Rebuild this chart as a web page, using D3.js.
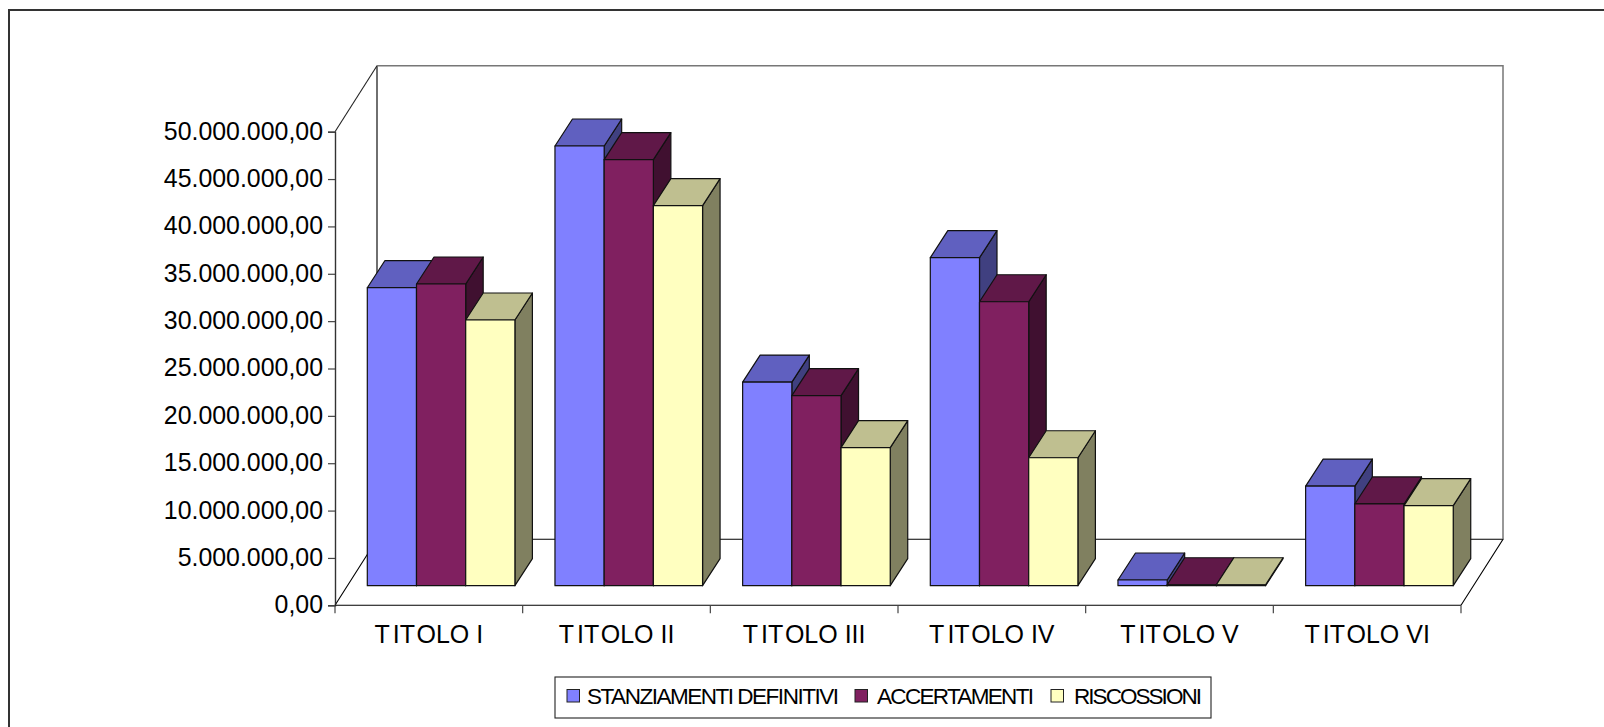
<!DOCTYPE html>
<html>
<head>
<meta charset="utf-8">
<script src="https://d3js.org/d3.v7.min.js"></script>
<style>
  html, body { margin: 0; padding: 0; background: #fff; overflow: hidden; }
  svg { display: block; }
  text { font-family: "Liberation Sans", Arial, sans-serif; fill: #000; }
</style>
</head>
<body>
<svg id="main_graph" width="1604" height="727"></svg>
<script>
// values
var categories = ["TITOLO I", "TITOLO II", "TITOLO III", "TITOLO IV", "TITOLO V", "TITOLO VI"];
var seriesNames = ["STANZIAMENTI DEFINITIVI", "ACCERTAMENTI", "RISCOSSIONI"];
var stanziamenti = [31460000, 46420000, 21500000, 34630000, 600000, 10520000];
var accertamenti = [31850000, 44980000, 20060000, 29980000, 100000, 8630000];
var riscossioni  = [28050000, 40120000, 14570000, 13510000, 100000, 8450000];
var yTicks = [0, 5000000, 10000000, 15000000, 20000000, 25000000, 30000000, 35000000, 40000000, 45000000, 50000000];

var seriesValues = [stanziamenti, accertamenti, riscossioni];
var frontColors = ["#8080ff", "#802060", "#ffffc0"];
var topColors   = ["#6060c0", "#601848", "#bfbf90"];
var sideColors  = ["#404080", "#401030", "#808060"];

var svg = d3.select("#main_graph");

var itLocale = d3.formatLocale({decimal: ",", thousands: ".", grouping: [3], currency: ["", "€"]});
var fmt = itLocale.format(",.2f");

var x = d3.scaleBand().domain(categories).range([335, 1461]);
var y = d3.scaleLinear().domain([0, 50000000]).range([605.3, 131.7]);
var xs = d3.scaleBand().domain(seriesNames).range([32.3, 179.9]);

var wallDx = 42, wallDy = -66;     // floor depth
var baseDx = 12.5, baseDy = -19.6; // where the bars stand on the floor
var barDx = 17.5, barDy = -27;     // bar depth

var poly = d3.line();

// outer frame, it runs off the page on the right and bottom
svg.append("path")
  .attr("d", "M1606,10H9V729")
  .attr("fill", "none")
  .attr("stroke", "#333")
  .attr("stroke-width", 2);

// walls and floor
var x0 = x.range()[0], x1 = x.range()[1], y0 = y(0), yMax = y(50000000);
function wall(d, color, w) {
  svg.append("path").attr("d", d).attr("fill", "none").attr("stroke", color).attr("stroke-width", w);
}
wall("M" + x0 + "," + y0 + "L" + (x0 + wallDx) + "," + (y0 + wallDy) + "H" + (x1 + wallDx) + "L" + x1 + "," + y0, "#000", 1.1);
wall("M" + x0 + "," + yMax + "L" + (x0 + wallDx) + "," + (yMax + wallDy), "#222", 1.1);
wall("M" + (x0 + wallDx) + "," + (y0 + wallDy) + "V" + (yMax + wallDy), "#222", 1.3);
wall("M" + (x0 + wallDx) + "," + (yMax + wallDy) + "H" + (x1 + wallDx) + "V" + (y0 + wallDy), "#777", 1.5);

// y axis
var yAxis = d3.axisLeft(y).tickValues(yTicks).tickFormat(fmt).tickSize(7).tickPadding(5);
var gy = svg.append("g").attr("transform", "translate(" + x0 + ",0)").call(yAxis);
gy.select(".domain").attr("stroke", "#333").attr("stroke-width", 1.4);
gy.selectAll(".tick line").attr("stroke", "#444").attr("stroke-width", 1.2);
gy.selectAll("text").style("font-size", "24.9px").attr("fill", "#000").attr("dy", "0.3em");

// x axis, ticks sit on the band edges
svg.append("line").attr("x1", x0).attr("x2", x1).attr("y1", y0).attr("y2", y0)
  .attr("stroke", "#000").attr("stroke-width", 1.1);
svg.selectAll(".xtick").data(categories.concat(["end"])).enter().append("line")
  .attr("class", "xtick")
  .attr("x1", function(d, i) { return x0 + i * x.bandwidth(); })
  .attr("x2", function(d, i) { return x0 + i * x.bandwidth(); })
  .attr("y1", y0).attr("y2", y0 + 8)
  .attr("stroke", "#444").attr("stroke-width", 1.2);
svg.selectAll(".xlab").data(categories).enter().append("text")
  .attr("class", "xlab")
  .attr("x", function(d) { return x(d) + x.bandwidth() / 2; })
  .attr("y", 643)
  .attr("text-anchor", "middle")
  .attr("dx", "0 3 0 2 0 0")   // the odd gaps in T ITOLO
  .style("font-size", "25px")
  .text(function(d) { return d; });

// bars
seriesNames.forEach(function(name, s) {
  var g = svg.append("g").attr("stroke", "#111").attr("stroke-width", 1.2).attr("stroke-linejoin", "round");
  categories.forEach(function(cat, c) {
    var v = seriesValues[s][c];
    var left = x(cat) + xs(name);
    var right = left + xs.bandwidth();
    var h = y(0) - y(v);
    var bottom = y(0) + baseDy;
    var top = bottom - h;
    g.append("path").attr("fill", sideColors[s])
      .attr("d", poly([[right, top], [right + barDx, top + barDy], [right + barDx, bottom + barDy], [right, bottom]]) + "Z");
    g.append("path").attr("fill", topColors[s])
      .attr("d", poly([[left, top], [left + barDx, top + barDy], [right + barDx, top + barDy], [right, top]]) + "Z");
    g.append("path").attr("fill", frontColors[s])
      .attr("d", poly([[left, top], [right, top], [right, bottom], [left, bottom]]) + "Z");
  });
});

// legend
var legendBox = svg.append("g");
legendBox.append("rect").attr("x", 555).attr("y", 677).attr("width", 656).attr("height", 41)
  .attr("fill", "#fff").attr("stroke", "#222").attr("stroke-width", 1.1);
var legendX = [567, 855, 1051];
var legendTextX = [587, 877, 1074];
var legendW = [252, 157, 128];
seriesNames.forEach(function(name, s) {
  legendBox.append("rect").attr("x", legendX[s]).attr("y", 689.5).attr("width", 12.5).attr("height", 12.5)
    .attr("fill", frontColors[s]).attr("stroke", "#222").attr("stroke-width", 1);
  legendBox.append("text").attr("x", legendTextX[s]).attr("y", 703.5)
    .style("font-size", "22.5px")
    .attr("textLength", legendW[s])
    .attr("lengthAdjust", "spacing")
    .text(name);
});
</script>
</body>
</html>
